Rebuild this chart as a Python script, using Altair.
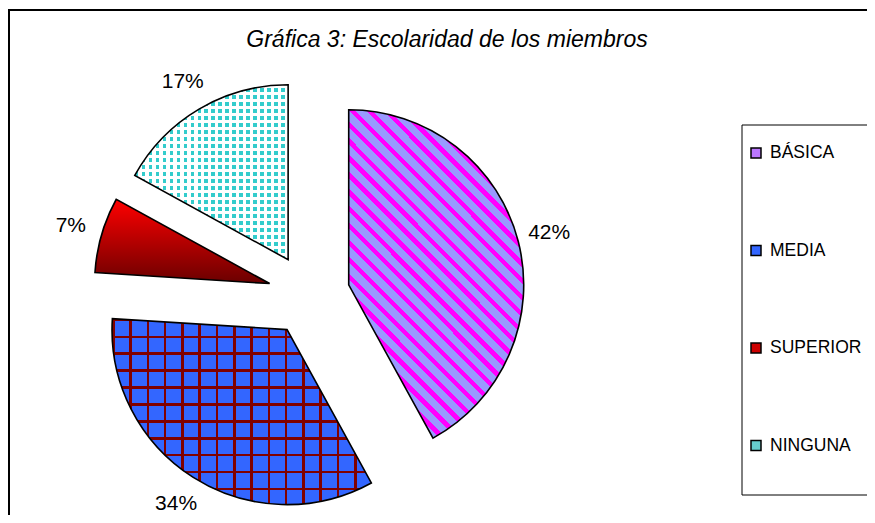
import altair as alt
import pandas as pd

# ---- data ----
categories = ["BÁSICA", "MEDIA", "SUPERIOR", "NINGUNA"]
values = [42, 34, 7, 17]
pct_labels = ["42%", "34%", "7%", "17%"]
legend_colors = ["#bb77ff", "#3366ff", "#cc0000", "#66cccc"]
title_text = "Gráfica 3: Escolaridad de los miembros"

df = pd.DataFrame({"cat": categories, "value": values, "label": pct_labels,
                   "order": list(range(len(categories)))})

# ---- layout constants (svg coords) ----
CX, CY = 301, 287      # pie centre
R = 175                # pie radius
D = 41                 # explode offset
FONT = "Liberation Sans"


def stripes(c1, c2, n, frac, x1, y1, x2, y2):
    stops = []
    for i in range(n):
        o0 = i / n
        o1 = (i + frac) / n
        o2 = (i + 1) / n
        stops += [{"offset": round(o0, 5), "color": c1},
                  {"offset": round(o1, 5), "color": c1},
                  {"offset": round(o1, 5), "color": c2},
                  {"offset": round(o2, 5), "color": c2}]
    return {"gradient": "linear", "x1": x1, "y1": y1, "x2": x2, "y2": y2,
            "stops": stops}


base = (
    alt.Chart(df)
    .transform_window(cum="sum(value)", sort=[{"field": "order"}], frame=[None, 0])
    .transform_joinaggregate(total="sum(value)")
    .transform_calculate(t0="2*PI*(datum.cum-datum.value)/datum.total",
                         t1="2*PI*datum.cum/datum.total")
    .transform_calculate(tm="(datum.t0+datum.t1)/2")
    .transform_calculate(cx=f"{CX}+{D}*sin(datum.tm)",
                         cy=f"{CY}-{D}*cos(datum.tm)")
)

arc_enc = dict(
    x=alt.X("cx:Q", scale=None, axis=None),
    y=alt.Y("cy:Q", scale=None, axis=None),
    theta=alt.Theta("t0:Q", scale=None, stack=False),
    theta2="t1:Q",
)


def arc(cat, fill, stroke=True):
    kw = dict(outerRadius=R, fill=fill)
    if stroke:
        kw.update(stroke="black", strokeWidth=1.6)
    else:
        kw.update(strokeWidth=0)
    return base.transform_filter(alt.datum.cat == cat).mark_arc(**kw).encode(**arc_enc)


basica = arc("BÁSICA", stripes("#ff00ff", "#9999ff", 25, 0.38, 0.233, 1, 0.767, 0))
media_v = arc("MEDIA", stripes("#800000", "#3366ff", 15, 0.15, 0, 0, 1, 0), stroke=False)
media_h = arc("MEDIA", stripes("#800000", "rgba(0,0,0,0)", 11, 0.15, 0, 0, 0, 1))
superior = arc("SUPERIOR", {"gradient": "linear", "x1": 0, "y1": 0, "x2": 0, "y2": 1,
                            "stops": [{"offset": 0, "color": "#ff0000"},
                                      {"offset": 1, "color": "#6a0000"}]})
ning_v = arc("NINGUNA", stripes("#33cccc", "#ffffff", 22, 0.5, 0, 0, 1, 0), stroke=False)
ning_h = arc("NINGUNA", stripes("#ffffff", "rgba(0,0,0,0)", 25, 0.5, 0, 0, 0, 1))

labels = base.mark_text(radius=207, font=FONT, fontSize=21, color="black",
                        baseline="middle").encode(
    x=alt.X("cx:Q", scale=None, axis=None),
    y=alt.Y("cy:Q", scale=None, axis=None),
    theta=alt.Theta("tm:Q", scale=None, stack=False),
    text="label:N",
)

one = pd.DataFrame({"a": [0]})

title = alt.Chart(one).mark_text(font=FONT, fontSize=23, fontStyle="italic",
                                 align="center", baseline="alphabetic").encode(
    x=alt.value(439), y=alt.value(39), text=alt.value(title_text))

border = alt.Chart(one).mark_rect(fill="transparent", stroke="black", strokeWidth=2).encode(
    x=alt.value(1), y=alt.value(2), x2=alt.value(900), y2=alt.value(600))

legend_box = alt.Chart(one).mark_rect(fill="white", stroke="black", strokeWidth=1).encode(
    x=alt.value(734), y=alt.value(117), x2=alt.value(880), y2=alt.value(487))

leg_base = alt.Chart(df).transform_calculate(ly="145 + datum.order*97.5")
leg_sym = leg_base.mark_square(size=100, stroke="black", strokeWidth=1.5, opacity=1).encode(
    x=alt.value(748),
    y=alt.Y("ly:Q", scale=None, axis=None),
    fill=alt.Fill("cat:N", scale=alt.Scale(domain=categories, range=legend_colors), legend=None),
)
leg_txt = leg_base.mark_text(font=FONT, fontSize=17.5, align="left", baseline="middle",
                             color="black").encode(
    x=alt.value(762),
    y=alt.Y("ly:Q", scale=None, axis=None),
    text="cat:N",
)

chart = alt.layer(
    border, title, basica, media_v, media_h, superior, ning_v, ning_h, labels,
    legend_box, leg_sym, leg_txt
).properties(
    width=859, height=507, autosize="none", padding=0
).configure_view(stroke=None)

chart.save("out.html", embed_options={"renderer": "svg", "actions": False})
